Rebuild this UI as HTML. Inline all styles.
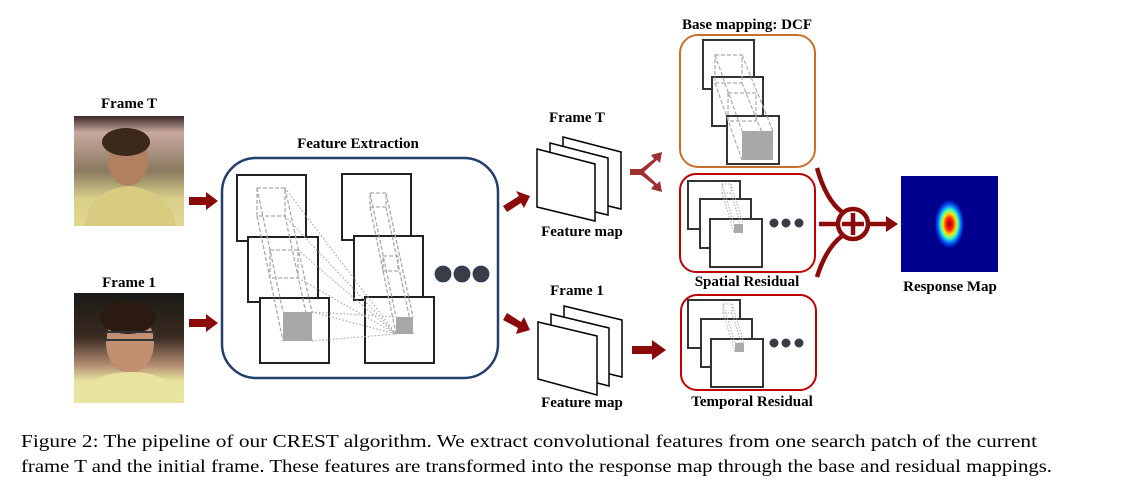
<!DOCTYPE html>
<html><head><meta charset="utf-8"><style>
html,body{margin:0;padding:0;background:#fff}
svg{display:block}
.b{font-family:"Liberation Serif",serif;font-weight:bold;font-size:15px;text-anchor:middle;fill:#000}
.cap{font-family:"Liberation Serif",serif;font-size:18px;fill:#000}
</style></head><body>
<svg width="1123" height="491" viewBox="0 0 1123 491" xmlns="http://www.w3.org/2000/svg">
<defs>
<linearGradient id="pT" x1="0" y1="0" x2="0" y2="1">
<stop offset="0" stop-color="#3a2a28"/><stop offset="0.15" stop-color="#c9a9a0"/><stop offset="0.5" stop-color="#8a7a60"/><stop offset="0.75" stop-color="#d8d08a"/><stop offset="1" stop-color="#e0d890"/></linearGradient>
<linearGradient id="p1" x1="0" y1="0" x2="0" y2="1">
<stop offset="0" stop-color="#1a1a16"/><stop offset="0.4" stop-color="#3a2a20"/><stop offset="0.65" stop-color="#b08a70"/><stop offset="0.8" stop-color="#e8e4a0"/><stop offset="1" stop-color="#eae6a0"/></linearGradient>
<radialGradient id="rm" cx="0.5" cy="0.5" r="0.5" gradientTransform="translate(0.5 0.5) scale(0.3 0.5) translate(-0.5 -0.5)">
<stop offset="0" stop-color="#a00000"/><stop offset="0.25" stop-color="#ff2000"/><stop offset="0.45" stop-color="#ffe000"/><stop offset="0.6" stop-color="#40ffc0"/><stop offset="0.8" stop-color="#0060ff"/><stop offset="1" stop-color="#00008f"/></radialGradient>
</defs>

<text class="b" x="129" y="108">Frame T</text>
<rect x="74" y="116" width="110" height="110" fill="url(#pT)"/>
<ellipse cx="128" cy="160" rx="20" ry="26" fill="#b08060"/>
<ellipse cx="126" cy="142" rx="24" ry="14" fill="#3a2818"/>
<path d="M84 226 Q90 190 128 186 Q170 190 176 226Z" fill="#d8cc80"/>
<text class="b" x="129" y="287">Frame 1</text>
<rect x="74" y="293" width="110" height="110" fill="url(#p1)"/>
<ellipse cx="130" cy="343" rx="24" ry="30" fill="#c09070"/>
<ellipse cx="128" cy="318" rx="28" ry="16" fill="#2a1a12"/>
<rect x="106" y="332" width="48" height="8" fill="none" stroke="#333" stroke-width="2"/>
<path d="M80 403 Q88 372 130 372 Q174 372 182 403Z" fill="#e8e4a0"/>

<g fill="#8b0a0a">
<path d="M189 197 H206 V192 L218 201 L206 210 V205 H189Z"/>
<path d="M189 319 H206 V314 L218 323 L206 332 V327 H189Z"/>
</g>

<text class="b" x="358" y="148">Feature Extraction</text>
<rect x="222" y="158" width="276" height="220" rx="34" fill="none" stroke="#253f6b" stroke-width="2.5"/>
<g fill="#fff" stroke="#222" stroke-width="2">
<rect x="237" y="175" width="69" height="66"/>
<rect x="248" y="237" width="70" height="65"/>
<rect x="260" y="298" width="69" height="65"/>
<rect x="342" y="174" width="69" height="66"/>
<rect x="354" y="236" width="69" height="64"/>
<rect x="365" y="297" width="69" height="66"/>
</g>
<rect x="283" y="312" width="29" height="29" fill="#aaa7a7"/>
<rect x="396" y="317" width="17" height="17" fill="#aaa7a7"/>
<g fill="none" stroke="#aaa" stroke-width="1.3" stroke-dasharray="4,2">
<path d="M257 188 H285 V216 H257Z M257 188 L283 312 M285 188 L312 312 M257 216 L283 341 M285 216 L312 341 M270 250 H298 V278 H270Z"/>
<path d="M370 193 H386 V207 H370Z M370 193 L396 317 M386 193 L413 317 M370 207 L396 334 M386 207 L413 334 M383 256 H398 V271 H383Z"/>
</g>
<g fill="none" stroke="#aaa" stroke-width="1.2" stroke-dasharray="1.5,2">
<path d="M285 188 L396 334 M285 216 L396 334 M298 250 L396 334 M298 278 L396 334 M312 312 L396 334 M312 341 L396 334 M312 312 L396 317"/>
</g>
<g fill="#3a3d45" stroke="#253f6b" stroke-width="0.8">
<circle cx="443" cy="274" r="8"/><circle cx="462" cy="274" r="8"/><circle cx="481" cy="274" r="8"/>
</g>

<g fill="#8b0a0a">
<path d="M503 206 L519 196 L516 191 L530 196 L524 208 L521 203 L507 212Z"/>
<path d="M503 320 L507 313 L521 322 L524 317 L530 330 L516 334 L518 328Z"/>
</g>

<text class="b" x="577" y="122">Frame T</text>
<g fill="#fff" stroke="#000" stroke-width="1.5">
<path d="M563 137 L621 152 V209 L563 195Z"/>
<path d="M550 143 L608 158 V215 L550 201Z"/>
<path d="M537 149 L595 164 V221 L537 207Z"/>
</g>
<text class="b" x="582" y="236">Feature map</text>
<text class="b" x="577" y="295">Frame 1</text>
<g fill="#fff" stroke="#000" stroke-width="1.5">
<path d="M564 306 L622 320 V377 L564 363Z"/>
<path d="M551 314 L609 328 V386 L551 371Z"/>
<path d="M538 322 L597 336 V395 L538 379Z"/>
</g>
<text class="b" x="582" y="407">Feature map</text>

<g fill="#a03030" stroke="none">
<path d="M630 169 H641 L654 159 L651 155 L662 152 L660 163 L657 160 L644 172 L657 184 L660 181 L662 192 L651 189 L654 185 L641 175 H630Z"/>
</g>
<path d="M632 346 H652 V340 L666 350 L652 360 V354 H632Z" fill="#8b0a0a"/>

<text class="b" x="747" y="29">Base mapping: DCF</text>
<rect x="680" y="35" width="135" height="132" rx="18" fill="none" stroke="#c8702a" stroke-width="2"/>
<g fill="#fff" stroke="#333" stroke-width="2">
<rect x="703" y="40" width="51" height="49"/>
<rect x="712" y="77" width="51" height="49"/>
<rect x="727" y="116" width="52" height="48"/>
</g>
<rect x="742" y="131" width="31" height="29" fill="#aaa7a7"/>
<g fill="none" stroke="#aaa" stroke-width="1.2" stroke-dasharray="4,2">
<path d="M715 55 H742 V83 H715Z M728 93 H756 V121 H728Z M715 55 L742 131 M742 55 L773 131 M715 83 L742 160 M742 83 L773 160"/>
</g>

<rect x="680" y="174" width="135" height="98" rx="16" fill="none" stroke="#c00000" stroke-width="2"/>
<g fill="#fff" stroke="#333" stroke-width="2">
<rect x="688" y="181" width="52" height="48"/>
<rect x="700" y="199" width="51" height="49"/>
<rect x="710" y="219" width="52" height="48"/>
</g>
<rect x="734" y="224" width="9" height="9" fill="#aaa"/>
<g fill="none" stroke="#aaa" stroke-width="1" stroke-dasharray="1.5,1.5"><path d="M722 184 H731 V193 H722Z M722 184 L734 224 M731 184 L743 224 M722 193 L734 233 M731 193 L743 233"/></g>
<g fill="#3a3d45"><circle cx="774" cy="223" r="4.5"/><circle cx="786" cy="223" r="4.5"/><circle cx="799" cy="223" r="4.5"/></g>
<text class="b" x="747" y="286">Spatial Residual</text>

<rect x="681" y="295" width="135" height="95" rx="16" fill="none" stroke="#c00000" stroke-width="2"/>
<g fill="#fff" stroke="#333" stroke-width="2">
<rect x="688" y="300" width="52" height="48"/>
<rect x="701" y="319" width="51" height="48"/>
<rect x="711" y="339" width="52" height="48"/>
</g>
<rect x="735" y="343" width="9" height="9" fill="#aaa"/>
<g fill="none" stroke="#aaa" stroke-width="1" stroke-dasharray="1.5,1.5"><path d="M723 304 H732 V313 H723Z M723 304 L735 343 M732 304 L744 343 M723 313 L735 352 M732 313 L744 352"/></g>
<g fill="#3a3d45"><circle cx="774" cy="343" r="4.5"/><circle cx="786" cy="343" r="4.5"/><circle cx="799" cy="343" r="4.5"/></g>
<text class="b" x="752" y="406">Temporal Residual</text>

<g fill="none" stroke="#8b0a0a" stroke-width="4.5">
<path d="M817 168 Q826 200 842 212"/>
<path d="M817 277 Q826 248 842 236"/>
<path d="M819 224 H838"/>
<circle cx="853" cy="224" r="15"/>
<path d="M853 213 V235 M842 224 H864"/>
<path d="M868 224 H888"/>
</g>
<path d="M886 216 L898 224 L886 232Z" fill="#8b0a0a"/>

<rect x="901" y="176" width="97" height="96" fill="#00008f"/>
<rect x="901" y="176" width="97" height="96" fill="url(#rm)"/>
<text class="b" x="950" y="291">Response Map</text>

<text class="cap" x="21" y="447" textLength="1016" lengthAdjust="spacingAndGlyphs">Figure 2:  The pipeline of our CREST algorithm.  We extract convolutional features from one search patch of the current</text>
<text class="cap" x="21" y="472" textLength="1031" lengthAdjust="spacingAndGlyphs">frame T and the initial frame. These features are transformed into the response map through the base and residual mappings.</text>
</svg>
</body></html>
